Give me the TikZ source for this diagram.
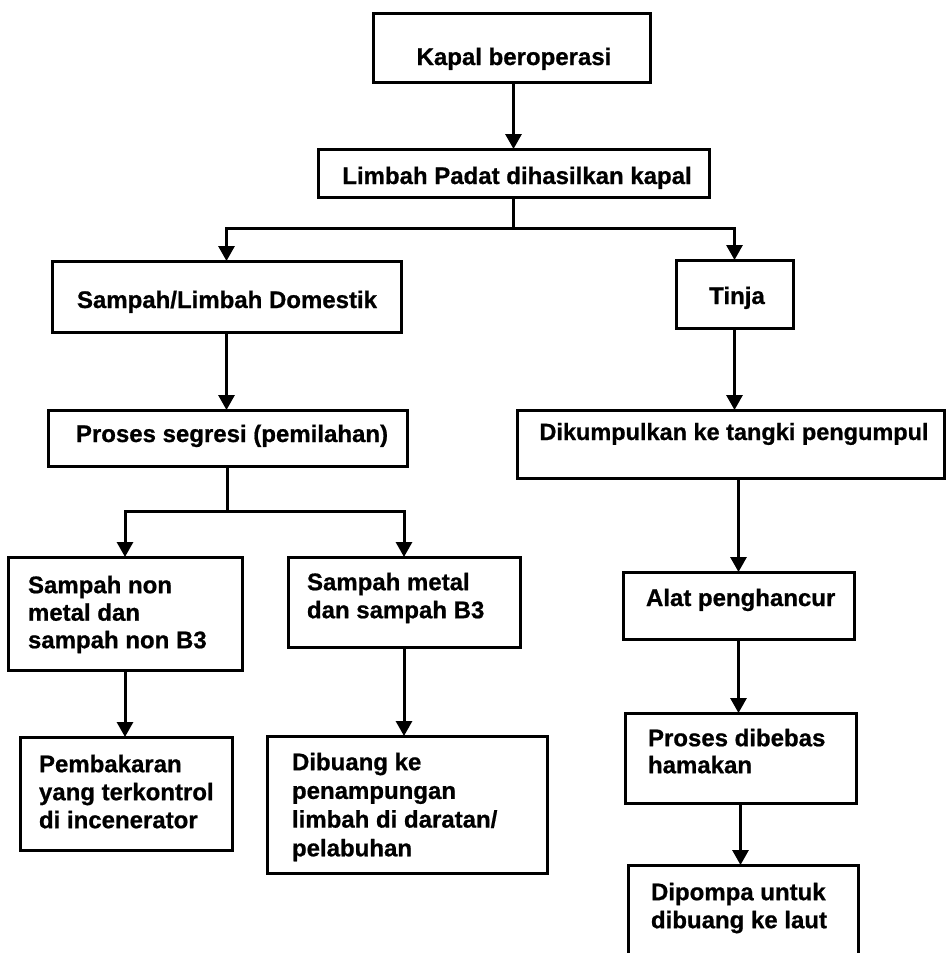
\documentclass[tikz,border=0pt]{standalone}
\usepackage{fontspec}
\setmainfont{Liberation Sans}[BoldFeatures={FakeBold=0.8}]
\usetikzlibrary{arrows.meta}

\begin{document}
\begin{tikzpicture}[
  x=1pt, y=-1pt,
  box/.style={draw=black, line width=3pt, rectangle, inner sep=0pt, outer sep=0pt, anchor=north west},
  lbl/.style={inner sep=0pt, outer sep=0pt, font=\fontsize{24}{28}\selectfont\bfseries},
  mlbl/.style={lbl, align=left, anchor=north west},
  arr/.style={line width=3pt, -{Triangle[width=16pt,length=15pt]}}
]
\useasboundingbox (0,0) rectangle (946,953);
\clip (0,0) rectangle (946,953);

% ---- boxes ----
\node[box, minimum width=277pt, minimum height=69pt]  (kapal)   at (373,13)  {};
\node[box, minimum width=391pt, minimum height=48pt]  (limbah)  at (318,149) {};
\node[box, minimum width=349pt, minimum height=71pt]  (domestik) at (52,261) {};
\node[box, minimum width=117pt, minimum height=68pt]  (tinja)   at (676,260) {};
\node[box, minimum width=359pt, minimum height=56pt]  (segresi) at (48,410)  {};
\node[box, minimum width=427pt, minimum height=68pt]  (tangki)  at (517,410) {};
\node[box, minimum width=234pt, minimum height=113pt] (nonmetal) at (8,557)  {};
\node[box, minimum width=232pt, minimum height=90pt]  (metal)   at (288,557) {};
\node[box, minimum width=212pt, minimum height=113pt] (bakar)   at (20,737)  {};
\node[box, minimum width=280pt, minimum height=137pt] (buang)   at (267,736) {};
\node[box, minimum width=231pt, minimum height=67pt]  (alat)    at (623,572) {};
\node[box, minimum width=231pt, minimum height=90pt]  (hama)    at (625,713) {};
\node[box, minimum width=230pt, minimum height=110pt] (pompa)   at (628,865) {};

% ---- labels ----
\node[lbl, anchor=base] (kapal-t)    at (514,65)  {Kapal beroperasi};
\node[lbl, anchor=base] (limbah-t)   at (517,184) {Limbah Padat dihasilkan kapal};
\node[lbl, anchor=base] (domestik-t) at (227,308) {Sampah/Limbah Domestik};
\node[lbl, anchor=base] (tinja-t)    at (737,304) {Tinja};
\node[lbl, anchor=base] (segresi-t)  at (232,442) {Proses segresi (pemilahan)};
\node[lbl, anchor=base, font=\fontsize{23.5}{28}\selectfont\bfseries] (tangki-t) at (734,440)
  {Dikumpulkan ke tangki pengumpul};
\node[lbl, anchor=base west] (alat-t) at (646,606) {Alat penghancur};
\node[mlbl, font=\fontsize{24}{27.5}\selectfont\bfseries] (nonmetal-t) at (28,575.8)
  {Sampah non\\metal dan\\sampah non B3};
\node[mlbl] (metal-t) at (307,572.8) {Sampah metal\\dan sampah B3};
\node[mlbl] (bakar-t) at (39,754.8) {Pembakaran\\yang terkontrol\\di incenerator};
\node[mlbl, font=\fontsize{24}{28.7}\selectfont\bfseries] (buang-t) at (292,752.8)
  {Dibuang ke\\penampungan\\limbah di daratan/\\pelabuhan};
\node[mlbl, font=\fontsize{24}{27}\selectfont\bfseries] (hama-t) at (648,728.8) {Proses dibebas\\hamakan};
\node[mlbl] (pompa-t) at (651,882.8) {Dipompa untuk\\dibuang ke laut};

% ---- connectors ----
\draw[arr] (kapal.south -| limbah.north) -- (limbah.north);
\draw[arr] (limbah.south) -- ++(0,31) -| (domestik.north);
\draw[arr] (limbah.south) -- ++(0,31) -| (tinja.north);
\draw[arr] (domestik.south) -- (segresi.north -| domestik.south);
\draw[arr] (tinja.south) -- (tangki.north -| tinja.south);
\draw[arr] (segresi.south) -- ++(0,45) -| (nonmetal.north);
\draw[arr] (segresi.south) -- ++(0,45) -| (metal.north);
\draw[arr] (alat.north |- tangki.south) -- (alat.north);
\draw[arr] (nonmetal.south) -- (bakar.north -| nonmetal.south);
\draw[arr] (metal.south) -- (buang.north -| metal.south);
\draw[arr] (alat.south) -- (hama.north -| alat.south);
\draw[arr] (hama.south) -- (pompa.north -| hama.south);
\end{tikzpicture}
\end{document}
